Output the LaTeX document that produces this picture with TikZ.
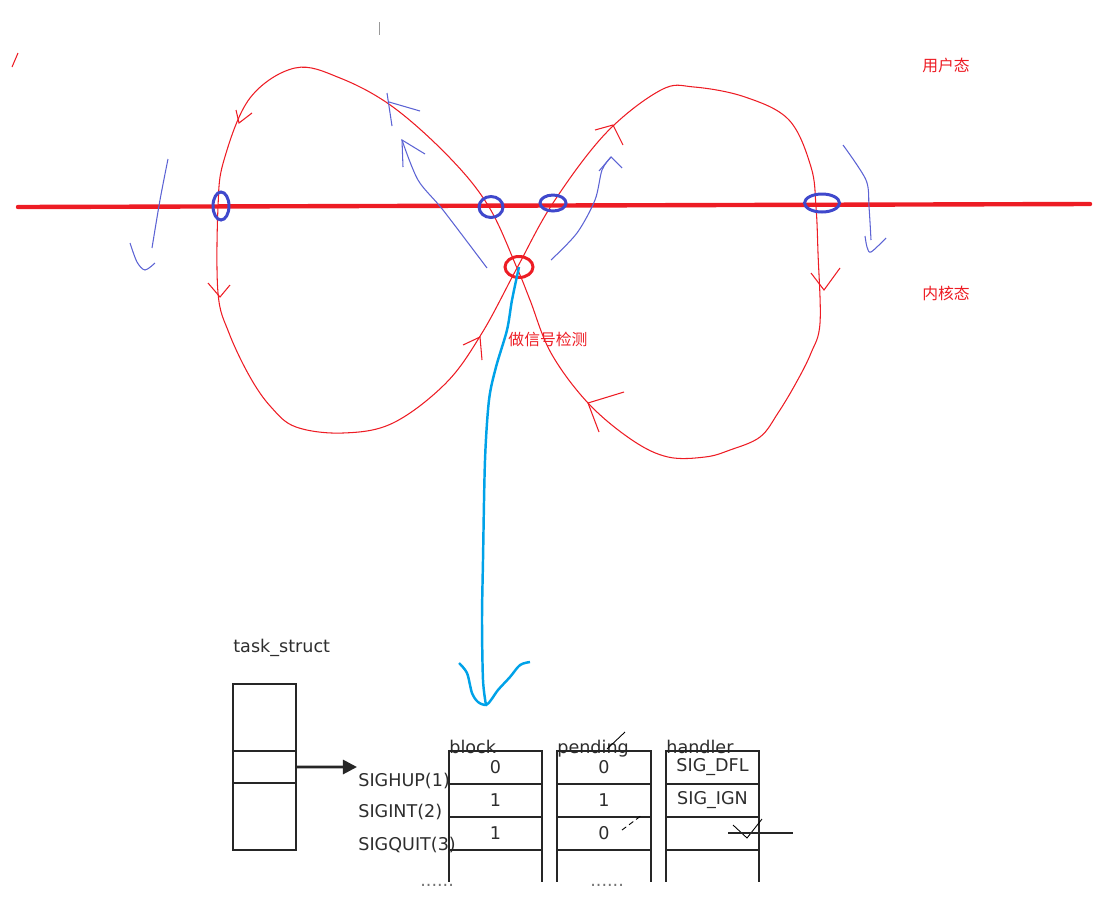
\documentclass[tikz,border=0pt]{standalone}
\usepackage{fontspec}
\setmainfont{DejaVu Sans}
\newfontfamily\cjk{Noto Sans CJK SC}
\usetikzlibrary{arrows.meta, positioning, calc, shapes.geometric}
\definecolor{paintred}{RGB}{237,28,36}
\definecolor{paintblue}{RGB}{63,72,204}
\definecolor{paintcyan}{RGB}{0,162,232}
\definecolor{tabgray}{RGB}{45,45,45}

\begin{document}
\begin{tikzpicture}[x=0.02cm, y=-0.02cm,
    redpen/.style={paintred, line width=0.6pt},
    bluepen/.style={paintblue!85, line width=0.6pt},
    bluering/.style={draw=paintblue, line width=1.7pt, ellipse, inner sep=0pt},
    redlabel/.style={text=paintred, font=\cjk\fontsize{9}{11}\selectfont},
    cell/.style={draw=black!85, line width=1.6pt, outer sep=0pt, minimum width=1.86cm,
        minimum height=0.66cm, inner sep=0pt, text=tabgray, font=\fontsize{10}{12}\selectfont},
    tablabel/.style={text=tabgray, inner sep=0pt, font=\fontsize{10}{12}\selectfont}]

    \useasboundingbox (0,0) rectangle (1114,910);

    % Đường ranh giới user / kernel
    \draw[paintred, line width=2.5pt, line cap=round] (18,207) -- (1090,204);

    % Hình số 8
    \draw[redpen] plot[smooth cycle, tension=0.6] coordinates {
        (295,68) (250,98) (224,160) (218,207) (218,293) (229,333) (250,377)
        (271,407) (296,427) (343,433) (393,423) (446,383) (482,333) (517,268)
        (553,203) (606,133) (661,90) (694,87) (745,97) (789,120) (811,167)
        (816,207) (818,253) (820,323) (811,353) (796,383) (778,413) (760,437)
        (730,450) (705,457) (668,457) (632,440) (588,403) (551,353) (530,300)
        (517,268) (489,207) (450,158) (393,107) (340,78)};

    % Mũi tên trên đường cong
    \draw[redpen] (236,110) -- (239,123) -- (252,113);
    \draw[redpen] (208,283) -- (220,297) -- (230,285);
    \draw[redpen] (463,345) -- (480,337) -- (482,360);
    \draw[redpen] (595,130) -- (613,125) -- (623,145);
    \draw[redpen] (811,273) -- (824,290) -- (840,268);
    \draw[redpen] (624,392) -- (588,403) -- (599,432);
    \draw[bluepen] (387,93) -- (392,126);
    \draw[bluepen] (389,102) -- (420,111);

    % Mũi tên xanh chuyển trạng thái
    \draw[bluepen] plot[smooth] coordinates {(168,159) (160,200) (152,248)};
    \draw[bluepen] plot[smooth] coordinates {(130,243) (137,262) (145,270) (155,263)};
    \draw[bluepen] plot[smooth] coordinates {(487,268) (443,210) (418,180) (402,140)};
    \draw[bluepen] (403,167) -- (402,140) -- (425,154);
    \draw[bluepen] plot[smooth] coordinates {(551,260) (577,233) (595,200) (602,170) (611,157)};
    \draw[bluepen] (599,171) -- (611,157) -- (622,168);
    \draw[bluepen] plot[smooth] coordinates {(843,145) (866,180) (869,207) (871,240)};
    \draw[bluepen] plot[smooth] coordinates {(865,236) (867,247) (871,252) (886,238)};

    % Vòng tròn đánh dấu
    \node[bluering, minimum width=0.32cm, minimum height=0.56cm] (ring1) at (221,206) {};
    \node[bluering, minimum width=0.48cm, minimum height=0.42cm] (ring2) at (491,207) {};
    \node[bluering, minimum width=0.52cm, minimum height=0.32cm] (ring3) at (553,203) {};
    \node[bluering, minimum width=0.70cm, minimum height=0.36cm] (ring4) at (822,203) {};
    \node[bluering, draw=paintred, minimum width=0.56cm, minimum height=0.42cm] (detect) at (519,267) {};

    % Nhãn
    \node[redlabel] (user) at (946,65) {用户态};
    \node[redlabel] (kernel) at (946,293) {内核态};
    \node[redlabel] (check) at (548,339) {做信号检测};

    % Nét vẽ tay lạc
    \draw[paintred, line width=0.6pt] (12,67) -- (18,53);
    \draw[black!40, line width=0.5pt] (379,22) -- (379,35);

    % Đường xanh tới bảng tín hiệu
    \coordinate (probe) at (486,705);
    \draw[paintcyan, line width=1.4pt] plot[smooth] coordinates {
        (detect.center) (512,300) (507,330) (496,367) (489,400) (485,460)
        (483,560) (482,620) (483,680) (probe)};
    \draw[paintcyan, line width=1.4pt] plot[smooth] coordinates {
        (459,663) (467,673) (472,693) (478,702) (probe) (491,700) (498,690)
        (510,677) (520,665) (530,662)};

    % task_struct
    \node[tablabel, anchor=base west] (tslabel) at (233,652) {task\_struct};
    \node[cell, minimum width=1.26cm, minimum height=1.34cm] (ts1) at (264.5,717.5) {};
    \node[cell, minimum width=1.26cm, minimum height=0.64cm, below=0pt of ts1] (ts2) {};
    \node[cell, minimum width=1.26cm, minimum height=1.34cm, below=0pt of ts2] (ts3) {};
    \coordinate (sigptr) at (357,767);
    \draw[line width=1.6pt, black!85, -{Triangle[length=8pt, width=8pt]}] (ts2.east) -- (sigptr);

    % Tên tín hiệu
    \node[tablabel, anchor=base west] (sighup) at (358,786) {SIGHUP(1)};
    \node[tablabel, anchor=base west] (sigint) at (358,817) {SIGINT(2)};
    \node[tablabel, anchor=base west] (sigquit) at (358,850) {SIGQUIT(3)};

    % Tiêu đề cột
    \node[tablabel, anchor=base west] (blockhdr) at (449,753) {block};
    \node[tablabel, anchor=base west] (pendhdr) at (557,753) {pending};
    \node[tablabel, anchor=base west] (handhdr) at (666,753) {handler};

    % Cột block
    \node[cell] (b1) at (495.5,767.5) {0};
    \node[cell, below=0pt of b1] (b2) {1};
    \node[cell, below=0pt of b2] (b3) {1};
    % Cột pending
    \node[cell, minimum width=1.88cm] (p1) at (604,767.5) {0};
    \node[cell, minimum width=1.88cm, below=0pt of p1] (p2) {1};
    \node[cell, minimum width=1.88cm, below=0pt of p2] (p3) {0};
    % Cột handler
    \node[cell] (h1) at (712.5,767.5) {SIG\_DFL};
    \node[cell, below=0pt of h1] (h2) {SIG\_IGN};
    \node[cell, below=0pt of h2] (h3) {};

    % Phần kéo dài phía dưới
    \foreach \c in {b3, p3, h3} {
        \draw[line width=1.6pt, black!85] (\c.south west) -- ++(0,32);
        \draw[line width=1.6pt, black!85] (\c.south east) -- ++(0,32);
    }
    \node[tablabel, text=black!55, anchor=base west] (bdots) at (420,886) {......};
    \node[tablabel, text=black!55, anchor=base west] (pdots) at (590,886) {......};

    % Dấu vẽ tay trên bảng
    \draw[black, line width=0.5pt] (625,732) -- (607,749);
    \draw[black, line width=0.5pt, densely dashed] (622,830) -- (642,815);
    \draw[black, line width=0.5pt] (733,825) -- (747,838) -- (762,819);
    \draw[black!85, line width=1.6pt] (728,833) -- (793,833);
\end{tikzpicture}
\end{document}
